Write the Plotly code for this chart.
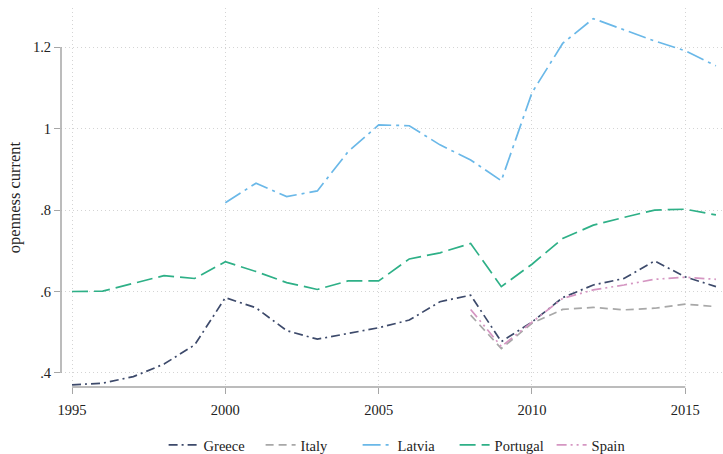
import plotly.graph_objects as go

years = list(range(1995, 2017))

greece = [0.371, 0.375, 0.391, 0.422, 0.469, 0.585, 0.560, 0.504, 0.483, 0.497,
          0.511, 0.530, 0.575, 0.591, 0.477, 0.525, 0.585, 0.616, 0.632, 0.675,
          0.636, 0.612]
italy = [None] * 13 + [0.542, 0.460, 0.522, 0.556, 0.561, 0.555, 0.559, 0.569, 0.563]
latvia = [None] * 5 + [0.818, 0.866, 0.833, 0.847, 0.943, 1.009, 1.007, 0.960, 0.923,
                       0.872, 1.088, 1.209, 1.270, 1.243, 1.215, 1.191, 1.154]
portugal = [0.600, 0.601, 0.620, 0.639, 0.632, 0.673, 0.649, 0.622, 0.605, 0.626,
            0.626, 0.680, 0.695, 0.718, 0.612, 0.667, 0.730, 0.763, 0.782, 0.800,
            0.802, 0.788]
spain = [None] * 13 + [0.556, 0.465, 0.525, 0.583, 0.604, 0.616, 0.630, 0.635, 0.630]

series = [
    ("Greece", greece, "#3d4a6b", "9px,4px,2px,4px"),
    ("Italy", italy, "#a8a8a8", "8px,5px"),
    ("Latvia", latvia, "#6ab8e8", "18px,5px,3px,5px"),
    ("Portugal", portugal, "#2eb087", "16px,6px"),
    ("Spain", spain, "#d596c2", "10px,4px,2px,4px,2px,4px"),
]

xticks = [1995, 2000, 2005, 2010, 2015]
yticks = [0.4, 0.6, 0.8, 1.0, 1.2]
yticklabels = [".4", ".6", ".8", "1", "1.2"]

fig = go.Figure()
for name, vals, color, dash in series:
    fig.add_trace(go.Scatter(x=years, y=vals, name=name, mode="lines",
                             line=dict(color=color, width=1.7, dash=dash),
                             connectgaps=False))

axis_color = "#a6a6a6"
grid_color = "#d4d4d4"
fig.update_layout(
    width=723, height=454,
    margin=dict(l=61, r=0, t=8, b=67),
    paper_bgcolor="white", plot_bgcolor="white",
    font=dict(family="Liberation Serif, Times New Roman, serif", size=14, color="#222"),
    xaxis=dict(range=[1994.64, 2016.23], tickvals=xticks, ticks="outside", ticklen=6,
               tickcolor=axis_color, showgrid=True, gridcolor=grid_color,
               griddash="1px,3px", gridwidth=1, zeroline=False, showline=False,
               tickfont=dict(size=14.5), automargin=False, ticklabelstandoff=4),
    yaxis=dict(range=[0.3656, 1.296], tickvals=yticks, ticktext=yticklabels,
               ticks="outside", ticklen=6, tickcolor=axis_color, showgrid=True,
               gridcolor=grid_color, griddash="1px,3px", gridwidth=1, zeroline=False,
               showline=False, automargin=False,
               title=dict(text="openness current", standoff=8, font=dict(size=16.5)),
               tickfont=dict(size=14.5)),
    legend=dict(orientation="h", x=0.155, xanchor="left", yref="container",
                y=(454 - 445) / 454, yanchor="middle",
                font=dict(size=14.5), itemwidth=30, entrywidth=52,
                entrywidthmode="pixels", bgcolor="rgba(0,0,0,0)"),
    shapes=[
        dict(type="line", xref="x", yref="paper", x0=1995, x1=2015, y0=0, y1=0,
             line=dict(color=axis_color, width=1.5)),
        dict(type="line", xref="paper", yref="y", x0=0, x1=0, y0=0.4, y1=1.2,
             line=dict(color=axis_color, width=1.5)),
    ],
)

fig.write_html("out.html", config={"displayModeBar": False},
               post_script="document.body.style.margin='0';")
